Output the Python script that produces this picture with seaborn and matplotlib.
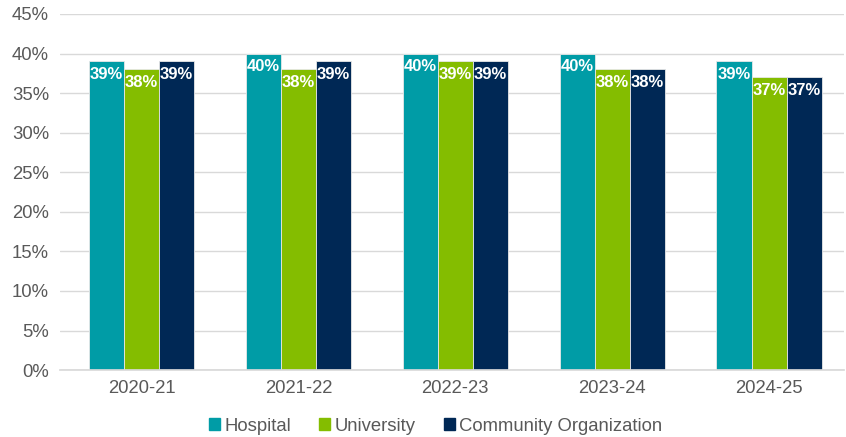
import pandas as pd
import matplotlib.pyplot as plt
import seaborn as sns
from matplotlib.ticker import PercentFormatter

# data
years = ['2020-21', '2021-22', '2022-23', '2023-24', '2024-25']
hospital = [39, 40, 40, 40, 39]
university = [38, 38, 39, 38, 37]
community = [39, 39, 39, 38, 37]
groups = ['Hospital', 'University', 'Community Organization']
colors = ['#009CA6', '#84BD00', '#002855']

df = pd.DataFrame({
    'Year': years * 3,
    'Group': [g for g in groups for _ in years],
    'Value': hospital + university + community,
})

sns.set_theme(style='white')
plt.rcParams['font.family'] = ['Liberation Sans', 'DejaVu Sans']

fig = plt.figure(figsize=(8.46, 4.37), dpi=100)
ax = fig.add_axes([0.071, 0.153, 0.927, 0.815])

sns.barplot(data=df, x='Year', y='Value', hue='Group', palette=colors, saturation=1,
            width=0.67, edgecolor='#e8e8e8', linewidth=0.6, ax=ax, legend=False)

for cont in ax.containers:
    for bar in cont:
        h = bar.get_height()
        ax.text(bar.get_x() + bar.get_width() / 2, h - 0.7, f'{h:.0f}%',
                ha='center', va='top', color='white', fontsize=12, fontweight='bold')

ax.set_ylim(0, 45)
ax.set_xlim(-0.52, 4.48)
ax.set_yticks(range(0, 46, 5))
ax.yaxis.set_major_formatter(PercentFormatter(decimals=0))
ax.yaxis.grid(True, color='#d9d9d9', linewidth=1)
ax.set_axisbelow(True)
ax.set_xlabel('')
ax.set_ylabel('')
for s in ['top', 'right', 'left']:
    ax.spines[s].set_visible(False)
ax.spines['bottom'].set_color('#d9d9d9')
ax.tick_params(axis='both', colors='#595959', labelsize=13.3, length=0)
ax.tick_params(axis='y', pad=8)
ax.tick_params(axis='x', pad=7)

handles = [plt.Rectangle((0, 0), 1, 1, color=c) for c in colors]
fig.legend(handles, groups, loc='lower center', bbox_to_anchor=(0.515, -0.033), ncol=3,
           frameon=False, fontsize=13.3, handlelength=0.6, handleheight=0.6,
           handletextpad=0.25, columnspacing=1.5, labelcolor='#595959')

fig.savefig('out.png', dpi=100)
